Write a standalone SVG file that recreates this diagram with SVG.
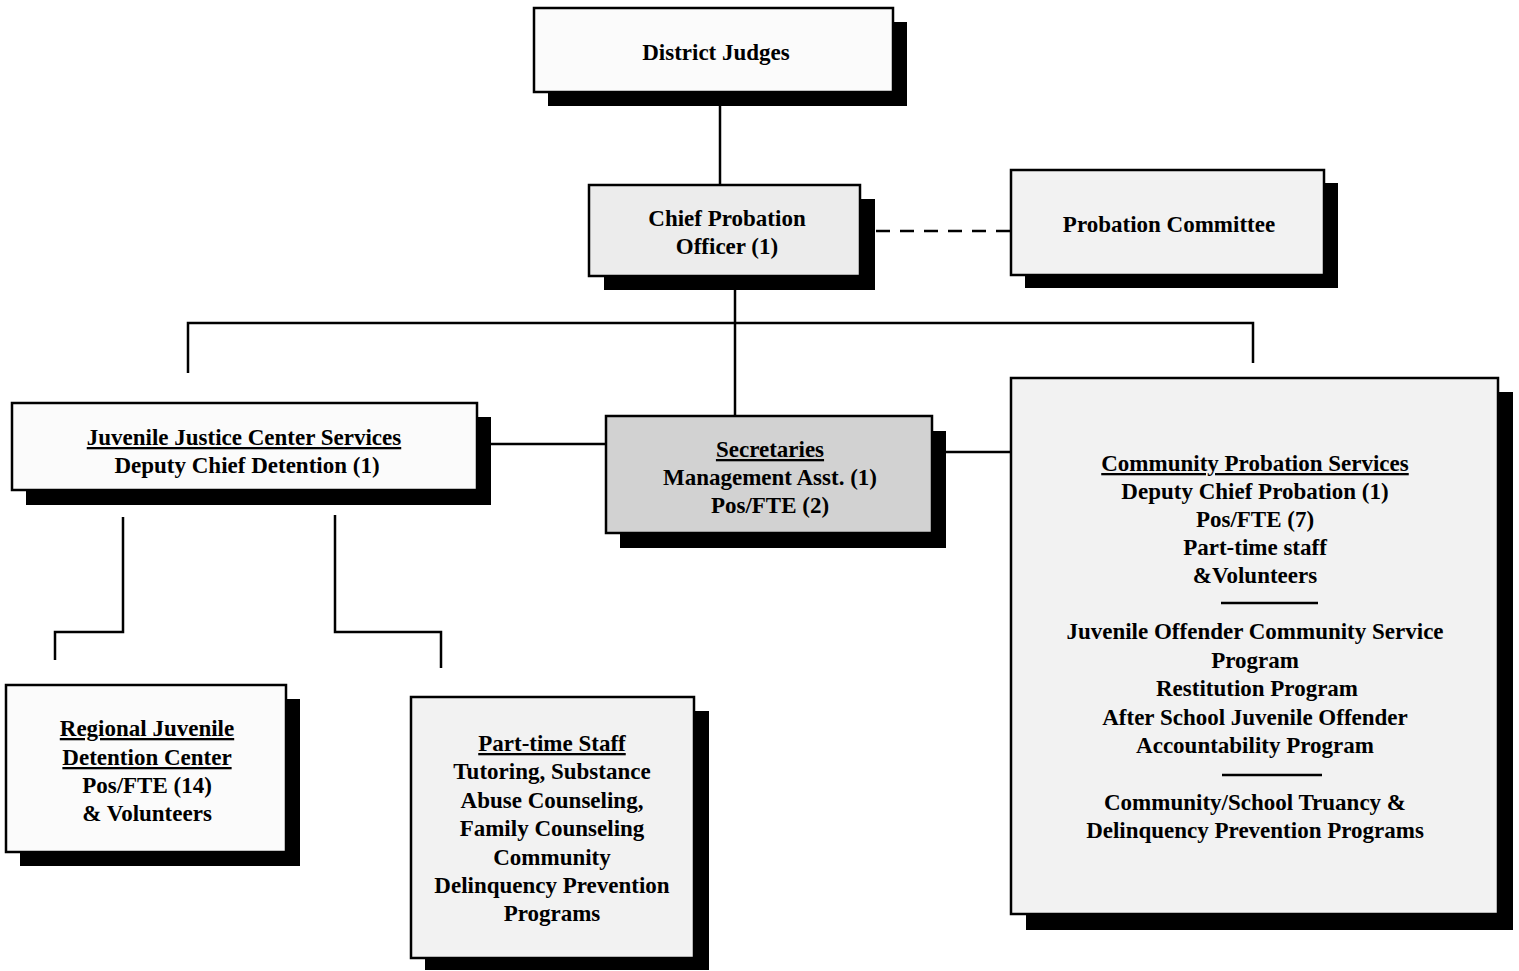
<svg xmlns="http://www.w3.org/2000/svg" width="1519" height="971" viewBox="0 0 1519 971">
<style>
.bg{fill:#ffffff}
.sh{fill:#000000}
.box{stroke:#000;stroke-width:2.5}
.w{fill:#fbfbfb}
.g1{fill:#ececec}
.g2{fill:#d2d2d2}
.g3{fill:#f2f2f2}
.ln{stroke:#000;stroke-width:2.5;fill:none}
.dash{stroke-dasharray:14 10}
text{font-family:"Liberation Serif","Times New Roman",serif;font-weight:bold;font-size:23px;fill:#000;text-anchor:middle}
.u{text-decoration:underline}
</style>
<rect class="bg" x="0" y="0" width="1519" height="971"/>
<g id="connectors">
<line class="ln" x1="720" y1="105" x2="720" y2="185"/>
<line class="ln dash" x1="876" y1="231" x2="1010" y2="231"/>
<line class="ln" x1="735" y1="290" x2="735" y2="416"/>
<polyline class="ln" points="188,373 188,323 1253,323 1253,363"/>
<line class="ln" x1="491" y1="444" x2="606" y2="444"/>
<line class="ln" x1="946" y1="452" x2="1027" y2="452"/>
<polyline class="ln" points="123,517 123,632 55,632 55,660"/>
<polyline class="ln" points="335,515 335,632 441,632 441,668"/>
</g>
<g id="district-judges">
<rect class="sh" x="548" y="22" width="359" height="84"/>
<rect class="box w" x="534" y="8" width="359" height="84"/>
<text x="716" y="60">District Judges</text>
</g>
<g id="chief-probation">
<rect class="sh" x="604" y="199" width="271" height="91"/>
<rect class="box g1" x="589" y="185" width="271" height="91"/>
<text x="727" y="226">Chief Probation</text>
<text x="727" y="254">Officer (1)</text>
</g>
<g id="probation-committee">
<rect class="sh" x="1025" y="183" width="313" height="105"/>
<rect class="box g3" x="1011" y="170" width="313" height="105"/>
<text x="1169" y="232">Probation Committee</text>
</g>
<g id="jjcs">
<rect class="sh" x="26" y="417" width="465" height="88"/>
<rect class="box w" x="12" y="403" width="465" height="87"/>
<text class="u" x="244" y="445">Juvenile Justice Center Services</text>
<text x="247" y="473">Deputy Chief Detention (1)</text>
</g>
<g id="secretaries">
<rect class="sh" x="620" y="431" width="326" height="117"/>
<rect class="box g2" x="606" y="416" width="326" height="117"/>
<text class="u" x="770" y="457">Secretaries</text>
<text x="770" y="485">Management Asst. (1)</text>
<text x="770" y="513">Pos/FTE (2)</text>
</g>
<g id="cps">
<rect class="sh" x="1026" y="392" width="487" height="538"/>
<rect class="box g3" x="1011" y="378" width="487" height="536"/>
<text class="u" x="1255" y="471">Community Probation Services</text>
<text x="1255" y="499">Deputy Chief Probation (1)</text>
<text x="1255" y="527">Pos/FTE (7)</text>
<text x="1255" y="555">Part-time staff</text>
<text x="1255" y="583">&amp;Volunteers</text>
<line class="ln" x1="1221" y1="603" x2="1318" y2="603"/>
<text x="1255" y="639">Juvenile Offender Community Service</text>
<text x="1255" y="668">Program</text>
<text x="1257" y="696">Restitution Program</text>
<text x="1255" y="725">After School Juvenile Offender</text>
<text x="1255" y="753">Accountability Program</text>
<line class="ln" x1="1222" y1="775" x2="1322" y2="775"/>
<text x="1255" y="810">Community/School Truancy &amp;</text>
<text x="1255" y="838">Delinquency Prevention Programs</text>
</g>
<g id="regional">
<rect class="sh" x="20" y="699" width="280" height="167"/>
<rect class="box w" x="6" y="685" width="280" height="167"/>
<text class="u" x="147" y="736">Regional Juvenile</text>
<text class="u" x="147" y="765">Detention Center</text>
<text x="147" y="793">Pos/FTE (14)</text>
<text x="147" y="821">&amp; Volunteers</text>
</g>
<g id="part-time">
<rect class="sh" x="425" y="711" width="284" height="259"/>
<rect class="box g3" x="411" y="697" width="283" height="261"/>
<text class="u" x="552" y="751">Part-time Staff</text>
<text x="552" y="779">Tutoring, Substance</text>
<text x="552" y="808">Abuse Counseling,</text>
<text x="552" y="836">Family Counseling</text>
<text x="552" y="865">Community</text>
<text x="552" y="893">Delinquency Prevention</text>
<text x="552" y="921">Programs</text>
</g>
</svg>
